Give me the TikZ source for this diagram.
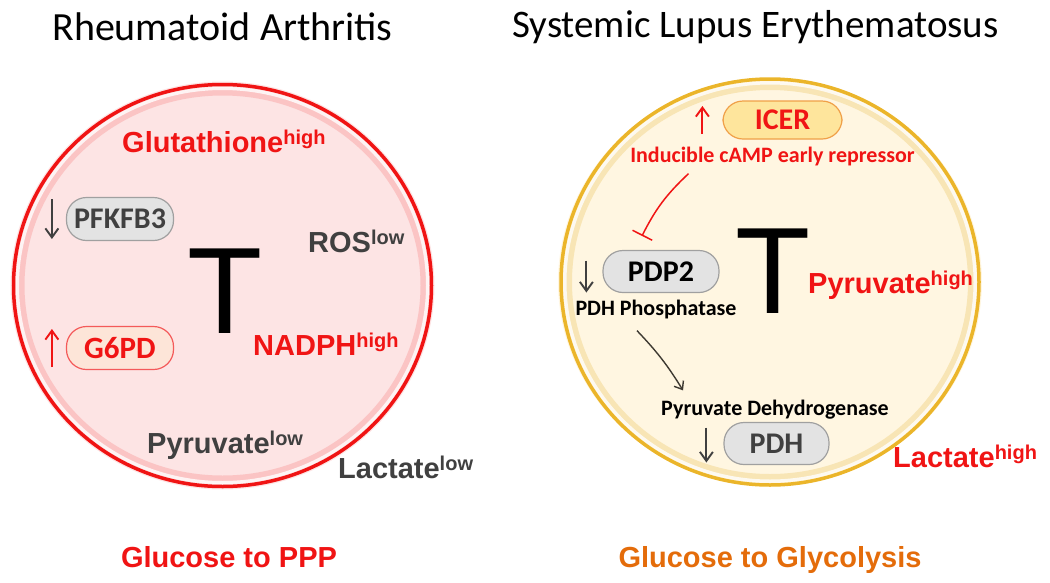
\documentclass[tikz,border=0pt]{standalone}
\usepackage{fontspec}
\setmainfont{Carlito}
\newfontfamily\arialfont{Liberation Sans}
\usetikzlibrary{positioning,arrows.meta,calc,shapes.geometric}
\definecolor{RAred}{HTML}{F01414}
\definecolor{RApink}{HTML}{FDE4E4}
\definecolor{SLEcream}{HTML}{FFF6E1}
\definecolor{SLEgold}{HTML}{EBB52A}
\definecolor{DarkGray}{HTML}{404040}
\definecolor{BoxGray}{HTML}{E3E3E3}
\definecolor{BoxEdge}{HTML}{A0A0A0}
\definecolor{PeachFill}{HTML}{FDE5D8}
\definecolor{IcerFill}{HTML}{FEE59C}
\definecolor{IcerEdge}{HTML}{F0A048}
\definecolor{GlyOrange}{HTML}{E46C0A}
\definecolor{ArrowBrown}{HTML}{3E3A32}
\newcommand{\fsz}[1]{\fontsize{#1}{#1}\selectfont}
\newcommand{\lev}[1]{\raisebox{8pt}{\fsz{20}#1}}

\begin{document}
\begin{tikzpicture}[x=1pt,y=-1pt,
	cell/.style={ellipse, inner sep=0pt, minimum width=424pt, minimum height=408pt},
	enzyme/.style={draw=BoxEdge, fill=BoxGray, line width=1.2pt, rounded corners=20pt,
		minimum width=107pt, minimum height=43pt, inner sep=0pt,
		font=\fsz{30}\bfseries, text=DarkGray},
	metab/.style={anchor=base west, inner sep=0pt, font=\arialfont\fsz{29}\bfseries},
	enzname/.style={anchor=base, inner sep=0pt, font=\fsz{22}\bfseries},
	bigT/.style={inner sep=0pt, font=\arialfont\fsz{123}},
	trend/.style={-{Straight Barb[length=9pt,width=13pt]}, line width=1.9pt},
	heading/.style={anchor=base, inner sep=0pt, font=\fsz{40}},
	verdict/.style={anchor=base, inner sep=0pt, font=\arialfont\fsz{29}\bfseries}
	]
	\useasboundingbox (0,0) rectangle (1050,582);
	\node[heading] (ratitle) at (222.5,40) {Rheumatoid Arthritis};
	\node[heading, font=\fsz{39}] (sletitle) at (755.5,37) {Systemic Lupus Erythematosus};

	\node[cell, fill=RApink] (lcell) at (222.5,285.5) {};
	\draw[RAred!25, line width=8pt] (lcell.center) ellipse [x radius=202pt, y radius=194pt];
	\draw[white, line width=3pt, opacity=.8] (lcell.center) ellipse [x radius=205pt, y radius=197pt];
	\draw[RAred, line width=3.5pt] (lcell.center) ellipse [x radius=209pt, y radius=201pt];

	\node[cell, fill=SLEcream] (rcell) at (770,282) {};
	\draw[SLEgold!35, line width=8pt] (rcell.center) ellipse [x radius=202pt, y radius=196pt];
	\draw[white, line width=3pt, opacity=.8] (rcell.center) ellipse [x radius=205pt, y radius=199pt];
	\draw[SLEgold, line width=3.5pt] (rcell.center) ellipse [x radius=209pt, y radius=203pt];

	\node[bigT] (lT) at (225,291) {T};
	\node[metab, text=RAred] (glut) at (122,152) {Glutathione\lev{high}};
	\node[enzyme] (pfk) at (120,219) {PFKFB3};
	\node[enzyme, fill=PeachFill, draw=RAred!70, text=RAred, font=\fsz{31}\bfseries] (g6pd) at (120,348) {G6PD};
	\node[metab, text=DarkGray] (ros) at (308,252) {ROS\lev{low}};
	\node[metab, text=RAred] (nadph) at (253,355) {NADPH\lev{high}};
	\node[metab, text=DarkGray] (lpyr) at (147,453) {Pyruvate\lev{low}};
	\node[metab, text=DarkGray] (llac) at (338,478) {Lactate\lev{low}};
	\draw[trend, DarkGray] ($(pfk.west)+(-14,-20)$) -- ($(pfk.west)+(-14,20)$);
	\draw[trend, RAred] ($(g6pd.west)+(-14,19)$) -- ($(g6pd.west)+(-14,-19)$);

	\node[bigT] (rT) at (773.5,271.5) {T};
	\node[enzyme, fill=IcerFill, draw=IcerEdge, text=RAred, font=\fsz{30}\bfseries,
		minimum width=119pt, minimum height=38pt] (icer) at (782.5,120) {ICER};
	\node[enzname, text=RAred] (repr) at (772.5,162) {Inducible cAMP early repressor};
	\node[enzyme, text=black, minimum width=116pt, minimum height=42pt] (pdp) at (661,271.5) {PDP2};
	\node[enzname] (phos) at (656,315) {PDH Phosphatase};
	\node[metab, text=RAred] (rpyr) at (808,293) {Pyruvate\lev{high}};
	\node[enzname] (pdhname) at (775,415) {Pyruvate Dehydrogenase};
	\node[enzyme, minimum width=105pt, minimum height=42pt] (pdh) at (776.5,443.5) {PDH};
	\node[metab, text=RAred] (rlac) at (893,467) {Lactate\lev{high}};
	\draw[trend, RAred] ($(icer.west)+(-20,14)$) -- ($(icer.west)+(-20,-14)$);
	\draw[trend, DarkGray] ($(pdp.west)+(-16,-11)$) -- ($(pdp.west)+(-16,21)$);
	\draw[trend, DarkGray] ($(pdh.west)+(-17,-16)$) -- ($(pdh.west)+(-17,19)$);
	\draw[RAred, line width=1.5pt, -{Bar[width=22pt]}] ($(repr.south)+(-84,8)$) to[bend right=10] ($(pdp.north)+(-19,-14)$);
	\draw[ArrowBrown, line width=1.4pt, -{Straight Barb[length=7pt,width=11pt]}] ($(phos.south)+(-19,12)$) to[bend left=6] ($(pdhname.north)+(-92,-9)$);

	\node[verdict, text=RAred] (ppp) at (229,567) {Glucose to PPP};
	\node[verdict, text=GlyOrange] (glyco) at (770,567) {Glucose to Glycolysis};
\end{tikzpicture}
\end{document}
